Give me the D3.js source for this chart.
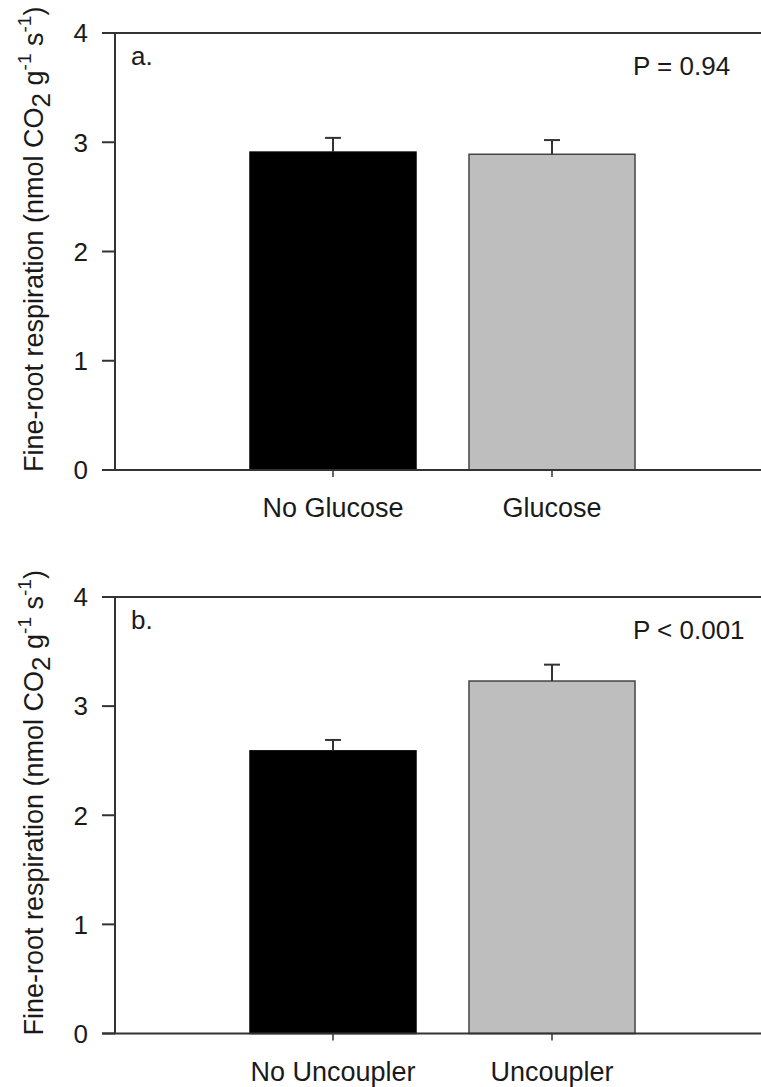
<!DOCTYPE html>
<html>
<head>
<meta charset="utf-8">
<script src="https://cdn.jsdelivr.net/npm/d3@7"></script>
<style>
  body { margin: 0; background: #fff; }
  text { font-family: "Liberation Sans", Arial, sans-serif; fill: #1a1a1a; }
</style>
</head>
<body>
<div id="chart"></div>
<script>
// data
var yTicks = [0, 1, 2, 3, 4];
var panelLabels = ["a.", "b."];
var pValues = ["P = 0.94", "P < 0.001"];

var categoriesA = ["No Glucose", "Glucose"];
var meansA = [2.91, 2.89];
var errorsA = [0.13, 0.13];

var categoriesB = ["No Uncoupler", "Uncoupler"];
var meansB = [2.59, 3.23];
var errorsB = [0.10, 0.15];

var barColors = ["#000000", "#bebebe"];

var width = 761, height = 1087;
var fontSize = 26;

var svg = d3.select("#chart")
  .append("svg")
  .attr("width", width)
  .attr("height", height);

function drawPanel(top, bottom, label, pText, categories, means, errors) {
  var g = svg.append("g");

  var y = d3.scaleLinear().domain([0, 4]).range([bottom, top]);
  var x = d3.scaleBand()
    .domain(categories)
    .range([250, 635])
    .paddingInner(0.242)
    .paddingOuter(0);

  var axisX = 115, tickLen = 13, rightEnd = 761;

  // top frame line
  g.append("line")
    .attr("x1", axisX - tickLen).attr("x2", rightEnd)
    .attr("y1", y(4)).attr("y2", y(4))
    .attr("stroke", "#333").attr("stroke-width", 2);

  // bars
  var bars = categories.map(function(c, i) {
    return { cat: c, mean: means[i], err: errors[i], i: i };
  });

  g.selectAll("rect.bar")
    .data(bars)
    .enter()
    .append("rect")
    .attr("class", "bar")
    .attr("x", function(d) { return x(d.cat); })
    .attr("width", x.bandwidth())
    .attr("y", function(d) { return y(d.mean); })
    .attr("height", function(d) { return y(0) - y(d.mean); })
    .attr("fill", function(d) { return barColors[d.i]; })
    .attr("stroke", function(d) { return d.i === 0 ? "#000" : "#444"; })
    .attr("stroke-width", 1.5);

  // error bars (upper only)
  var capW = 16;
  g.selectAll("line.err")
    .data(bars)
    .enter()
    .append("line")
    .attr("class", "err")
    .attr("x1", function(d) { return x(d.cat) + x.bandwidth() / 2; })
    .attr("x2", function(d) { return x(d.cat) + x.bandwidth() / 2; })
    .attr("y1", function(d) { return y(d.mean); })
    .attr("y2", function(d) { return y(d.mean + d.err); })
    .attr("stroke", "#333").attr("stroke-width", 2);

  g.selectAll("line.cap")
    .data(bars)
    .enter()
    .append("line")
    .attr("class", "cap")
    .attr("x1", function(d) { return x(d.cat) + x.bandwidth() / 2 - capW / 2; })
    .attr("x2", function(d) { return x(d.cat) + x.bandwidth() / 2 + capW / 2; })
    .attr("y1", function(d) { return y(d.mean + d.err); })
    .attr("y2", function(d) { return y(d.mean + d.err); })
    .attr("stroke", "#333").attr("stroke-width", 2);

  // bottom axis line
  g.append("line")
    .attr("x1", axisX - tickLen).attr("x2", rightEnd)
    .attr("y1", y(0)).attr("y2", y(0))
    .attr("stroke", "#333").attr("stroke-width", 2);

  // x ticks and labels
  g.selectAll("line.xtick")
    .data(categories)
    .enter()
    .append("line")
    .attr("class", "xtick")
    .attr("x1", function(d) { return x(d) + x.bandwidth() / 2; })
    .attr("x2", function(d) { return x(d) + x.bandwidth() / 2; })
    .attr("y1", y(0)).attr("y2", y(0) + 7)
    .attr("stroke", "#333").attr("stroke-width", 1.5);

  g.selectAll("text.xlab")
    .data(categories)
    .enter()
    .append("text")
    .attr("class", "xlab")
    .attr("x", function(d) { return x(d) + x.bandwidth() / 2; })
    .attr("y", y(0) + 47)
    .attr("text-anchor", "middle")
    .style("font-size", "27px")
    .text(function(d) { return d; });

  // y axis
  g.append("line")
    .attr("x1", axisX).attr("x2", axisX)
    .attr("y1", y(4)).attr("y2", y(0))
    .attr("stroke", "#333").attr("stroke-width", 2);

  g.selectAll("line.ytick")
    .data(yTicks)
    .enter()
    .append("line")
    .attr("class", "ytick")
    .attr("x1", axisX - tickLen).attr("x2", axisX)
    .attr("y1", function(d) { return y(d); })
    .attr("y2", function(d) { return y(d); })
    .attr("stroke", "#333").attr("stroke-width", 2);

  g.selectAll("text.ylab")
    .data(yTicks)
    .enter()
    .append("text")
    .attr("class", "ylab")
    .attr("x", 88)
    .attr("y", function(d) { return y(d); })
    .attr("dy", "0.36em")
    .attr("text-anchor", "end")
    .style("font-size", fontSize + "px")
    .text(function(d) { return d; });

  // y title, rotated
  var title = g.append("text")
    .attr("transform", "translate(43," + (y(0) + 2) + ") rotate(-90)")
    .attr("text-anchor", "start")
    .style("font-size", "27px");
  title.append("tspan").text("Fine-root respiration (nmol CO");
  title.append("tspan").attr("dy", 7).style("font-size", "26px").text("2");
  title.append("tspan").attr("dy", -7).text(" g");
  title.append("tspan").attr("dy", -12).style("font-size", "19px").text("-1");
  title.append("tspan").attr("dy", 12).text(" s");
  title.append("tspan").attr("dy", -12).style("font-size", "19px").text("-1");
  title.append("tspan").attr("dy", 12).text(")");

  // panel letter and P value
  g.append("text")
    .attr("x", 131).attr("y", y(4) + 32)
    .style("font-size", fontSize + "px")
    .text(label);

  g.append("text")
    .attr("x", 633).attr("y", y(4) + 42)
    .style("font-size", fontSize + "px")
    .text(pText);
}

drawPanel(33, 470, panelLabels[0], pValues[0], categoriesA, meansA, errorsA);
drawPanel(597, 1033.5, panelLabels[1], pValues[1], categoriesB, meansB, errorsB);
</script>
</body>
</html>
